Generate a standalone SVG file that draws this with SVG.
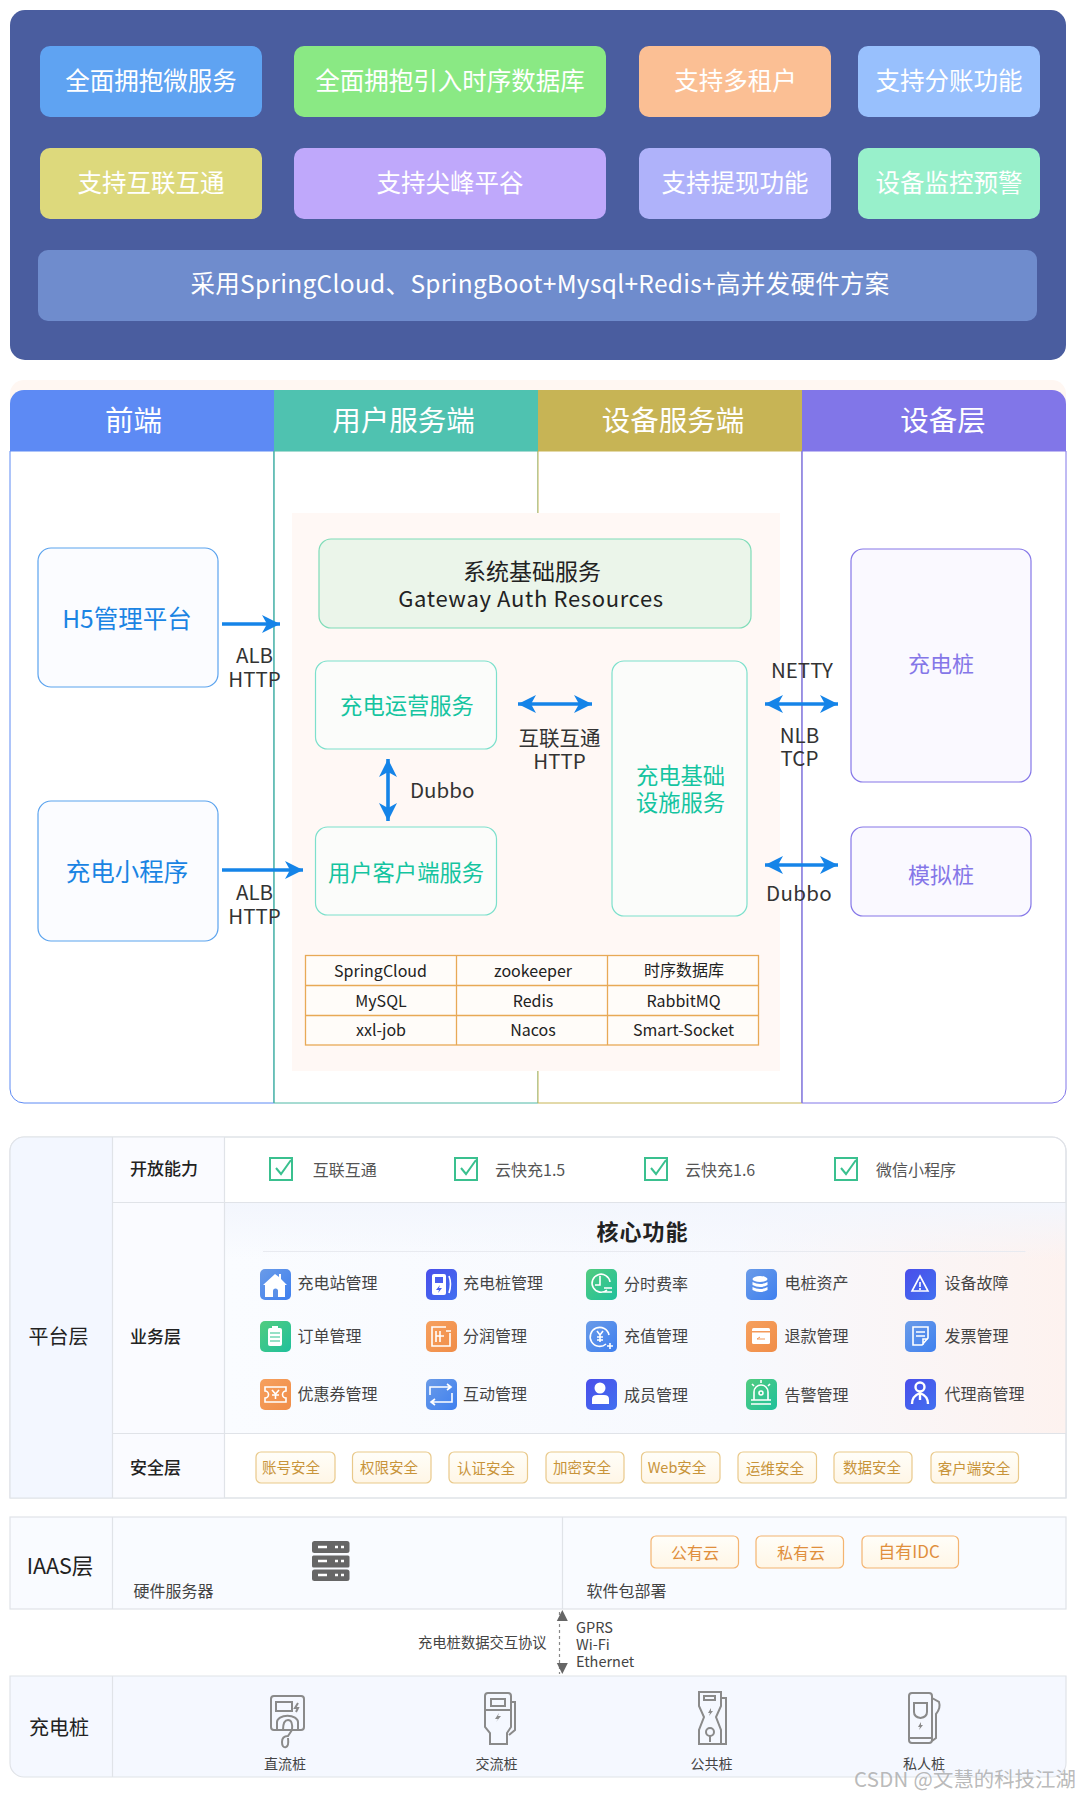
<svg xmlns="http://www.w3.org/2000/svg" width="1080" height="1797" viewBox="0 0 1080 1797">
<style>
text{font-family:"Noto Sans CJK SC","Noto Sans",sans-serif}
.m{text-anchor:middle}
.feat{font-size:24.5px;fill:#fff;text-anchor:middle}
.hd{font-size:28.500px;fill:#fff;text-anchor:middle}
.lb{font-size:20.5px;fill:#333}
.fe{font-size:24.5px;fill:#1a84e3;text-anchor:middle}
.sv{font-size:22.3px;fill:#14c4a0;text-anchor:middle}
.dv{font-size:22px;fill:#8577e8;text-anchor:middle}
.tb{font-size:16px;fill:#222;text-anchor:middle}
.card{stroke-width:1.2}
.row{font-size:17px;fill:#222;font-weight:500}
.l1{font-size:20px;fill:#222;text-anchor:middle}
.opn{font-size:16px;fill:#555}
.fn{font-size:16px;fill:#444}
.sec{font-size:14.5px;fill:#c8943a;text-anchor:middle}
.cl{font-size:16px;fill:#e08f3c;text-anchor:middle}
.sm{font-size:14px;fill:#444}
.gl{fill:none;stroke:#e0e3e8;stroke-width:1.2}
.wi{fill:#fff}
.wo{fill:none;stroke:#fff;stroke-width:1.6}
.pi{fill:none;stroke:#8a8a8a;stroke-width:2}
.chk{fill:none;stroke:#3ac08f;stroke-width:2}
.tagS{fill:url(#gTag);stroke:#e9c98a;stroke-width:1.2}
.tagC{fill:url(#gTag);stroke:#f4b470;stroke-width:1.2}
.arr{fill:none;stroke:#1584e8;stroke-width:3.6}
</style>
<defs>
<marker id="ah" markerUnits="userSpaceOnUse" markerWidth="20" markerHeight="20" refX="18" refY="10" orient="auto-start-reverse"><path d="M0 1L18 10L0 19L5 10Z" fill="#1584e8"/></marker>
<marker id="ag" markerUnits="userSpaceOnUse" markerWidth="12" markerHeight="14" refX="11" refY="6" orient="auto-start-reverse"><path d="M0 0.5L11 6L0 11.500Z" fill="#666"/></marker>
<linearGradient id="gBlue" x1="0" y1="0" x2="1" y2="1"><stop offset="0" stop-color="#6a9be8"/><stop offset="1" stop-color="#3f80ef"/></linearGradient>
<linearGradient id="gInd" x1="0" y1="0" x2="1" y2="1"><stop offset="0" stop-color="#4a4eea"/><stop offset="1" stop-color="#4170f0"/></linearGradient>
<linearGradient id="gGrn" x1="0" y1="0" x2="1" y2="1"><stop offset="0" stop-color="#52cc7f"/><stop offset="1" stop-color="#1fc09c"/></linearGradient>
<linearGradient id="gOrg" x1="0" y1="0" x2="1" y2="1"><stop offset="0" stop-color="#f6a05e"/><stop offset="1" stop-color="#f08d48"/></linearGradient>
<linearGradient id="gTag" x1="0" y1="0" x2="0" y2="1"><stop offset="0" stop-color="#fffef9"/><stop offset="1" stop-color="#fff6e6"/></linearGradient>
<linearGradient id="gCoreH" x1="0" y1="0" x2="1" y2="0"><stop offset="0" stop-color="#fafcff"/><stop offset="0.6" stop-color="#f7f9fe"/><stop offset="1" stop-color="#fdf2ef"/></linearGradient>
<linearGradient id="gCoreV" x1="0" y1="0" x2="0" y2="1"><stop offset="0" stop-color="#f3f6fd"/><stop offset="0.25" stop-color="#f3f6fd" stop-opacity="0"/></linearGradient>
</defs>

<g id="features">
<rect x="10" y="10" width="1056" height="350" rx="15" fill="#4a5d9f"/>
<g id="f1"><rect x="40" y="46" width="222" height="71" rx="10" fill="#5fa3f2"/><text class="feat" x="151" y="90">全面拥抱微服务</text></g>
<g id="f2"><rect x="294" y="46" width="312" height="71" rx="10" fill="#8ae984"/><text class="feat" x="450" y="90">全面拥抱引入时序数据库</text></g>
<g id="f3"><rect x="639" y="46" width="192" height="71" rx="10" fill="#fbbf94"/><text class="feat" x="735.500" y="90">支持多租户</text></g>
<g id="f4"><rect x="858" y="46" width="182" height="71" rx="10" fill="#98c0fd"/><text class="feat" x="949" y="90">支持分账功能</text></g>
<g id="f5"><rect x="40" y="148" width="222" height="71" rx="10" fill="#ddd97c"/><text class="feat" x="151" y="192">支持互联互通</text></g>
<g id="f6"><rect x="294" y="148" width="312" height="71" rx="10" fill="#bfa8fb"/><text class="feat" x="450" y="192">支持尖峰平谷</text></g>
<g id="f7"><rect x="639" y="148" width="192" height="71" rx="10" fill="#afb2fa"/><text class="feat" x="735" y="192">支持提现功能</text></g>
<g id="f8"><rect x="858" y="148" width="182" height="71" rx="10" fill="#98f0cb"/><text class="feat" x="949" y="192">设备监控预警</text></g>
<g id="f9"><rect x="38" y="250" width="999" height="71" rx="10" fill="#6f8ccd"/><text class="feat" x="540" y="293" letter-spacing="0.300">采用SpringCloud、SpringBoot+Mysql+Redis+高并发硬件方案</text></g>
</g>

<g id="architecture">
<rect x="10" y="380" width="1056" height="60" rx="14" fill="#fff7f2"/>
<g id="col-front"><path d="M274 451V1103H24A14 14 0 0 1 10 1089V451Z" fill="#fff" stroke="#5d8af4" stroke-width="1"/><path d="M10 451V404A14 14 0 0 1 24 390H274V451Z" fill="#5d8af4"/><text class="hd" x="133.500" y="431">前端</text></g>
<g id="col-user"><path d="M274 451H538V1103H274Z" fill="#fff" stroke="#4fb8a5" stroke-width="1"/><rect x="274" y="390" width="264" height="61" fill="#4fc2b0"/><text class="hd" x="403.500" y="431">用户服务端</text></g>
<g id="col-dev"><path d="M538 451H802V1103H538Z" fill="#fff" stroke="#c7b455" stroke-width="1"/><rect x="538" y="390" width="264" height="61" fill="#c7b455"/><text class="hd" x="673" y="431">设备服务端</text></g>
<g id="col-layer"><path d="M802 451H1066V1089A14 14 0 0 1 1052 1103H802Z" fill="#fff" stroke="#8176e8" stroke-width="1"/><path d="M802 390H1052A14 14 0 0 1 1066 404V451H802Z" fill="#8176e8"/><text class="hd" x="943" y="431">设备层</text></g>
<rect x="292" y="513" width="488" height="558" fill="#fff8f5"/>
<line x1="802" y1="451" x2="802" y2="1103" stroke="#8176e8" stroke-width="1"/>
<line x1="274" y1="451" x2="274" y2="1103" stroke="#4fb8a5" stroke-width="1"/>
</g>

<g id="node-h5"><rect class="card" x="38" y="548" width="180" height="139" rx="13" fill="#fbfcff" stroke="#5ba3ee"/><text class="fe" x="127" y="628">H5管理平台</text></g>
<g id="node-mini"><rect class="card" x="38" y="801" width="180" height="140" rx="13" fill="#fbfcff" stroke="#5ba3ee"/><text class="fe" x="127" y="881">充电小程序</text></g>
<g id="node-base"><rect class="card" x="319" y="539" width="432" height="89" rx="12" fill="#ebf5ea" stroke="#7fdcb8"/><text class="m" x="532" y="580" font-size="23" fill="#222">系统基础服务</text><text class="m" x="531" y="607" font-size="22" letter-spacing="0.650" fill="#222">Gateway Auth Resources</text></g>
<g id="node-ops"><rect class="card" x="315.500" y="661" width="181" height="88" rx="12" fill="#fbfcfa" stroke="#7de0cc"/><text class="sv" x="407" y="714">充电运营服务</text></g>
<g id="node-client"><rect class="card" x="315.500" y="827" width="181" height="88" rx="12" fill="#fbfcfa" stroke="#7de0cc"/><text class="sv" x="406" y="881">用户客户端服务</text></g>
<g id="node-infra"><rect class="card" x="612" y="661" width="135" height="255" rx="12" fill="#fbfcfa" stroke="#7de0cc"/><text class="sv" x="680.500" y="784">充电基础</text><text class="sv" x="680.500" y="811">设施服务</text></g>
<g id="node-pile"><rect class="card" x="851" y="549" width="180" height="233" rx="12" fill="#faf9ff" stroke="#8577e8"/><text class="dv" x="941" y="672">充电桩</text></g>
<g id="node-sim"><rect class="card" x="851" y="827" width="180" height="89" rx="12" fill="#faf9ff" stroke="#8577e8"/><text class="dv" x="941" y="883">模拟桩</text></g>

<g id="tech-table">
<rect x="305.500" y="955.500" width="453" height="89.500" fill="#fffcf9" stroke="#e8a956" stroke-width="1.3"/>
<path d="M305.500 985.500H758.500M305.500 1015.500H758.500M456.500 955.500V1045M607.500 955.500V1045" fill="none" stroke="#e8a956" stroke-width="1.3"/>
<text class="tb" x="380.500" y="977">SpringCloud</text><text class="tb" x="533" y="977">zookeeper</text><text class="tb" x="684" y="976">时序数据库</text>
<text class="tb" x="381" y="1007">MySQL</text><text class="tb" x="533" y="1007">Redis</text><text class="tb" x="683.500" y="1007">RabbitMQ</text>
<text class="tb" x="381" y="1036">xxl-job</text><text class="tb" x="533" y="1036">Nacos</text><text class="tb" x="683.500" y="1036">Smart-Socket</text>
</g>

<g id="connectors">
<path class="arr" d="M222 624H280" marker-end="url(#ah)"/>
<path class="arr" d="M222 870H303" marker-end="url(#ah)"/>
<path class="arr" d="M518 704H592" marker-start="url(#ah)" marker-end="url(#ah)"/>
<path class="arr" d="M388 759V821" marker-start="url(#ah)" marker-end="url(#ah)"/>
<path class="arr" d="M765 704H838" marker-start="url(#ah)" marker-end="url(#ah)"/>
<path class="arr" d="M765 865H838" marker-start="url(#ah)" marker-end="url(#ah)"/>
<path d="M559.500 1612V1674" fill="none" stroke="#888" stroke-width="1.200" stroke-dasharray="3 3"/>
<path d="M562.300 1610V1674" fill="none" stroke="none" marker-start="url(#ag)" marker-end="url(#ag)"/>
</g>

<g id="conn-labels">
<text class="lb m" x="254.500" y="663">ALB</text><text class="lb m" x="254.500" y="687">HTTP</text>
<text class="lb m" x="254.500" y="900">ALB</text><text class="lb m" x="254.500" y="924">HTTP</text>
<text class="lb" x="410" y="798">Dubbo</text>
<text class="lb m" x="559.500" y="746">互联互通</text><text class="lb m" x="559.500" y="769">HTTP</text>
<text class="lb m" x="802" y="678">NETTY</text>
<text class="lb m" x="799.500" y="743">NLB</text><text class="lb m" x="799.500" y="766">TCP</text>
<text class="lb m" x="799" y="901" letter-spacing="0.300">Dubbo</text>
</g>

<g id="platform">
<path class="gl" d="M10 1498V1151A14 14 0 0 1 24 1137H1052A14 14 0 0 1 1066 1151V1498Z" fill="#fff"/>
<path d="M10 1498V1151A14 14 0 0 1 24 1137H112V1498Z" fill="#f3f7ff"/>
<rect x="112" y="1137" width="112" height="361" fill="#fafbff"/>
<rect x="224" y="1202" width="842" height="231" fill="url(#gCoreH)"/>
<rect x="224" y="1202" width="842" height="231" fill="url(#gCoreV)"/>
<path d="M10 1498V1151A14 14 0 0 1 24 1137H1052A14 14 0 0 1 1066 1151V1498Z" fill="none" stroke="#e0e3e8" stroke-width="1.2"/>
<path class="gl" d="M112.500 1137V1498M224.500 1137V1498M112 1202.500H1066M112 1433.500H1066"/>
<text class="l1" x="58.500" y="1344">平台层</text>
<text class="row" x="130" y="1175">开放能力</text>
<text class="row" x="130" y="1343">业务层</text>
<text class="row" x="130" y="1474">安全层</text>
<g id="open-1"><rect class="chk" x="270" y="1158" width="22" height="22"/><path class="chk" d="M276 1168L281 1174L291 1160"/><text class="opn" x="312.700" y="1176">互联互通</text></g>
<g id="open-2"><rect class="chk" x="455" y="1158" width="22" height="22"/><path class="chk" d="M461 1168L466 1174L476 1160"/><text class="opn" x="495" y="1176">云快充1.5</text></g>
<g id="open-3"><rect class="chk" x="645" y="1158" width="22" height="22"/><path class="chk" d="M651 1168L656 1174L666 1160"/><text class="opn" x="685" y="1176">云快充1.6</text></g>
<g id="open-4"><rect class="chk" x="835" y="1158" width="22" height="22"/><path class="chk" d="M841 1168L846 1174L856 1160"/><text class="opn" x="876" y="1176">微信小程序</text></g>
<text class="m" x="642.500" y="1240" font-size="22" font-weight="700" letter-spacing="1" fill="#222">核心功能</text>
<line x1="263" y1="1251.500" x2="1025.500" y2="1251.500" stroke="#e8eaf0"/>

<g id="fn-station"><rect x="260" y="1269" width="31" height="31" rx="5" fill="url(#gBlue)"/><path class="wi" d="M263 1285L275 1274L279 1277V1274H281V1279L287 1285H285V1297H265V1285Z"/><path d="M273 1297V1291A2 2 0 0 1 278 1291V1297Z" fill="#5a90e8"/><text class="fn" x="297.500" y="1289">充电站管理</text></g>
<g id="fn-pile"><rect x="426" y="1269" width="31" height="31" rx="5" fill="url(#gInd)"/><rect class="wi" x="432" y="1274" width="14" height="21" rx="2"/><rect x="435" y="1277" width="8" height="6" fill="#4a5eee"/><path d="M440 1285L436 1290H439L438 1293L442 1288H439Z" fill="#4a5eee"/><path class="wo" d="M449 1276Q452 1284 449 1293"/><text class="fn" x="463" y="1289">充电桩管理</text></g>
<g id="fn-rate"><rect x="586" y="1269" width="31" height="31" rx="5" fill="url(#gGrn)"/><path class="wo" d="M607 1290A9 9 0 1 1 610 1282M600 1276V1285H595M604 1288H612M604 1292H612"/><text class="fn" x="624" y="1290">分时费率</text></g>
<g id="fn-asset"><rect x="746" y="1269" width="31" height="31" rx="5" fill="url(#gBlue)"/><ellipse class="wi" cx="760" cy="1279" rx="7.500" ry="3"/><path class="wi" d="M752.500 1282Q760 1286 767.500 1282V1285Q760 1289 752.500 1285ZM752.500 1287Q760 1291 767.500 1287V1290Q760 1294 752.500 1290Z"/><text class="fn" x="784.500" y="1289">电桩资产</text></g>
<g id="fn-fault"><rect x="905" y="1269" width="31" height="31" rx="5" fill="url(#gInd)"/><path class="wo" d="M920 1276L928 1291H912Z"/><path class="wo" d="M920 1282V1287M920 1288V1290"/><text class="fn" x="944.600" y="1289">设备故障</text></g>

<g id="fn-order"><rect x="260" y="1321" width="31" height="31" rx="5" fill="url(#gGrn)"/><rect class="wi" x="268" y="1328" width="14" height="18" rx="2"/><rect class="wi" x="272" y="1326" width="6" height="3"/><path d="M270 1333H280M270 1337H280M270 1341H280" stroke="#2ec490" stroke-width="1.200"/><text class="fn" x="297.500" y="1342">订单管理</text></g>
<g id="fn-share"><rect x="426" y="1321" width="31" height="31" rx="5" fill="url(#gOrg)"/><path class="wo" d="M446 1327H432V1346H450V1333M436 1331V1342M440 1331V1342M436 1336H444M446 1331H451"/><text class="fn" x="463" y="1342">分润管理</text></g>
<g id="fn-topup"><rect x="586" y="1321" width="31" height="31" rx="5" fill="url(#gBlue)"/><path class="wo" d="M606 1344A9.500 9.500 0 1 1 609 1335M597 1331L600 1335L603 1331M600 1335V1342M597 1337H603M597 1340H603M607 1346H613M610 1343V1349"/><text class="fn" x="624" y="1342">充值管理</text></g>
<g id="fn-refund"><rect x="746" y="1321" width="31" height="31" rx="5" fill="url(#gOrg)"/><rect class="wi" x="752" y="1328" width="18" height="16" rx="1.500"/><rect x="752" y="1331" width="18" height="1.500" fill="#f3995a"/><path d="M757 1339H765M757 1339L760 1337" stroke="#f3995a" fill="none"/><text class="fn" x="784.500" y="1342">退款管理</text></g>
<g id="fn-invoice"><rect x="905" y="1321" width="31" height="31" rx="5" fill="url(#gBlue)"/><path class="wo" d="M913 1327H928V1338L922 1345H913ZM916 1332H925M916 1336H925M923 1345V1339H928"/><text class="fn" x="944.600" y="1342">发票管理</text></g>

<g id="fn-coupon"><rect x="260" y="1379" width="31" height="31" rx="5" fill="url(#gOrg)"/><path class="wo" d="M265 1387H286V1391A3 3 0 0 0 286 1398V1402H265V1398A3 3 0 0 0 265 1391ZM272 1390L275.500 1394L279 1390M275.500 1394V1399M272 1395H279"/><text class="fn" x="297.500" y="1400">优惠券管理</text></g>
<g id="fn-interact"><rect x="426" y="1379" width="31" height="31" rx="5" fill="url(#gBlue)"/><path class="wo" d="M430 1395V1387H450M447 1384L451 1387L447 1390M452 1393V1402H432M435 1399L431 1402L435 1405"/><text class="fn" x="463" y="1400">互动管理</text></g>
<g id="fn-member"><rect x="586" y="1379" width="31" height="31" rx="5" fill="url(#gInd)"/><circle class="wi" cx="600" cy="1388" r="5.500"/><path class="wi" d="M592 1404V1399Q592 1395 597 1395H604Q609 1395 609 1399V1404Z"/><text class="fn" x="624" y="1401">成员管理</text></g>
<g id="fn-alarm"><rect x="746" y="1379" width="31" height="31" rx="5" fill="url(#gGrn)"/><path class="wo" d="M754 1400V1392A7 7 0 0 1 768 1392V1400M751 1404H771M751 1400H771M761 1380V1383M752 1384L754 1386M770 1384L768 1386"/><circle class="wo" cx="761" cy="1393" r="2"/><text class="fn" x="784.500" y="1401">告警管理</text></g>
<g id="fn-agent"><rect x="905" y="1379" width="31" height="31" rx="5" fill="url(#gInd)"/><circle cx="920" cy="1387" r="4.500" fill="none" stroke="#fff" stroke-width="2.400"/><path d="M912 1404Q912 1396 920 1393Q928 1396 928 1404M920 1393V1400" fill="none" stroke="#fff" stroke-width="2.400"/><text class="fn" x="944.600" y="1400">代理商管理</text></g>

<g id="sec-1"><rect class="tagS" x="256" y="1452" width="79" height="31" rx="5"/><text class="sec" x="291" y="1473">账号安全</text></g>
<g id="sec-2"><rect class="tagS" x="352.500" y="1452" width="78.500" height="31" rx="5"/><text class="sec" x="389" y="1473">权限安全</text></g>
<g id="sec-3"><rect class="tagS" x="449" y="1452" width="78.500" height="31" rx="5"/><text class="sec" x="486" y="1474">认证安全</text></g>
<g id="sec-4"><rect class="tagS" x="546" y="1452" width="78" height="31" rx="5"/><text class="sec" x="582" y="1473">加密安全</text></g>
<g id="sec-5"><rect class="tagS" x="641.500" y="1452" width="78.500" height="31" rx="5"/><text class="sec" x="677" y="1473">Web安全</text></g>
<g id="sec-6"><rect class="tagS" x="738" y="1452" width="78.500" height="31" rx="5"/><text class="sec" x="775" y="1474">运维安全</text></g>
<g id="sec-7"><rect class="tagS" x="834" y="1452" width="78" height="31" rx="5"/><text class="sec" x="872" y="1473">数据安全</text></g>
<g id="sec-8"><rect class="tagS" x="931" y="1452" width="87.500" height="31" rx="5"/><text class="sec" x="974" y="1474">客户端安全</text></g>
</g>

<g id="iaas">
<rect x="10" y="1517" width="1056" height="92" fill="#f9fbff" stroke="#e0e3e8" stroke-width="1.2"/>
<path class="gl" d="M112.500 1517V1609M562.500 1517V1609"/>
<text class="l1" x="60" y="1574" style="font-size:21.500px">IAAS层</text>
<g id="server-icon"><rect x="312" y="1541" width="37.500" height="12" rx="2.500" fill="#666"/><rect x="312" y="1555.500" width="37.500" height="12" rx="1.500" fill="#666"/><rect x="312" y="1569.500" width="37.500" height="11.500" rx="2.500" fill="#666"/><path d="M318 1547H327M318 1561H327M318 1575H327" stroke="#fff" stroke-width="2.500"/><path d="M335 1547H338M341 1547H344M335 1561H338M341 1561H344M335 1575H338M341 1575H344" stroke="#fff" stroke-width="2.500"/></g>
<text class="fn" x="133.600" y="1597">硬件服务器</text>
<text class="fn" x="586.500" y="1597">软件包部署</text>
<g id="cloud-1"><rect class="tagC" x="651" y="1536" width="87.500" height="32" rx="5"/><text class="cl" x="695" y="1559">公有云</text></g>
<g id="cloud-2"><rect class="tagC" x="756" y="1536" width="87.500" height="32" rx="5"/><text class="cl" x="801" y="1559">私有云</text></g>
<g id="cloud-3"><rect class="tagC" x="862" y="1536" width="96.500" height="32" rx="5"/><text class="cl" x="909" y="1558" style="font-size:17px">自有IDC</text></g>
</g>

<g id="protocol">
<text class="sm" x="418" y="1648" style="font-size:14.300px">充电桩数据交互协议</text>
<text class="sm" x="576" y="1633" style="font-size:14.500px">GPRS</text>
<text class="sm" x="576" y="1650" style="font-size:14.500px">Wi-Fi</text>
<text class="sm" x="576" y="1667" style="font-size:14.500px">Ethernet</text>
</g>

<g id="piles">
<path d="M10 1676H1066V1763A14 14 0 0 1 1052 1777H24A14 14 0 0 1 10 1763Z" fill="#f5f8ff" stroke="#e0e3e8" stroke-width="1.2"/>
<line x1="112.500" y1="1676" x2="112.500" y2="1777" stroke="#e0e3e8" stroke-width="1.2"/>
<text class="l1" x="59" y="1735">充电桩</text>
<g id="pile-dc"><rect class="pi" x="271" y="1696" width="33" height="34" rx="3"/><rect class="pi" x="276" y="1702" width="16" height="9"/><path d="M298 1703L295 1708H298L296 1712" class="pi" stroke-width="1.500"/><path class="pi" d="M277 1730V1722A10 6 0 0 1 298 1722V1730M283 1730Q283 1720 288 1720Q293 1720 292 1730L288 1736Q282 1736 282 1742Q282 1748 286 1747Q289 1746 288 1738"/><text class="sm m" x="285" y="1768.500">直流桩</text></g>
<g id="pile-ac"><path class="pi" d="M485 1696Q485 1693 488 1693H508Q511 1693 511 1696V1727L507 1733V1744H490V1733L485 1727Z"/><rect class="pi" x="491" y="1699" width="14" height="7"/><path class="pi" d="M485 1710H511M511 1702H515V1730L509 1735"/><path d="M499 1713L495 1719H498L496 1722L501 1716H498Z" fill="#8a8a8a"/><text class="sm m" x="496.500" y="1768.500">交流桩</text></g>
<g id="pile-pub"><path class="pi" d="M699 1692H721V1706L716 1717L721 1730V1744H699V1730L704 1717L699 1706Z"/><rect class="pi" x="704" y="1696" width="11" height="4" stroke-width="1.500"/><path d="M711 1708L708 1713H710L709 1716L713 1711H711Z" fill="#8a8a8a"/><circle class="pi" cx="710" cy="1732" r="4" stroke-width="1.500"/><path class="pi" d="M710 1736V1742M721 1698H726V1744H721" stroke-width="1.500"/><text class="sm m" x="711.500" y="1768.500">公共桩</text></g>
<g id="pile-pri"><rect class="pi" x="909" y="1693" width="23" height="50" rx="3"/><path class="pi" d="M909 1738H932M914 1703H927V1712Q927 1717 920.500 1718Q914 1717 914 1712Z"/><path d="M921 1722L918 1727H920L919 1730L923 1725H921Z" fill="#8a8a8a"/><path class="pi" d="M932 1698L939 1702Q941 1708 936 1714V1738L932 1741" stroke-width="1.500"/><text class="sm m" x="924" y="1768.500">私人桩</text></g>
</g>

<text id="watermark" x="854" y="1787" font-size="20.400" fill="#a8a8a8" fill-opacity="0.8"><tspan letter-spacing="0.300">CSDN @</tspan>文慧的科技江湖</text>
</svg>
